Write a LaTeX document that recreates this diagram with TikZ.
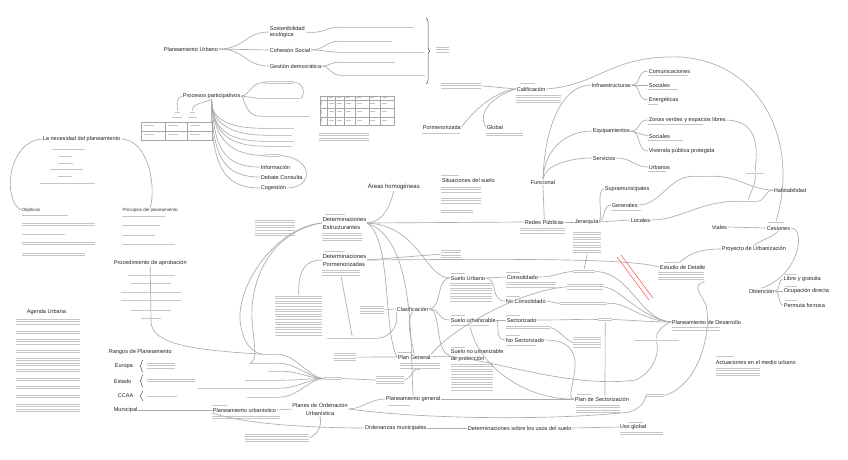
\documentclass[tikz,border=0pt]{standalone}
\usepackage{fontspec}
\setmainfont{Liberation Sans}
\usetikzlibrary{decorations.pathreplacing}
\newcommand\tblk[5]{%
 \node[inner sep=0pt, minimum width=#4pt, minimum height={#5*2.6pt}, anchor=north west] (#1) at (#2,{#3-1.3}) {};
 \foreach \k in {1,...,#5}{\draw[tline] (#2,{#3+(\k-1)*2.6}) -- ++(#4,0);}%
}
\tikzset{
 lbl/.style={font=\fontsize{5.6}{6.5}\selectfont, text=black!85, inner sep=0.6pt, anchor=west},
 lbltwo/.style={lbl, align=left, font=\fontsize{5.8}{8}\selectfont},
 mid/.style={font=\fontsize{4.5}{5}\selectfont, text=black!80, inner sep=0.5pt, anchor=west},
 con/.style={draw=gray!65, line width=0.65pt},
 tline/.style={draw=gray!45, line width=0.8pt},
 grid/.style={draw=gray!70, line width=0.4pt},
 brc/.style={draw=gray!70!black, line width=0.5pt, decorate},
 redx/.style={draw=red!70, line width=0.5pt}
}
\begin{document}
\begin{tikzpicture}[x=1pt,y=-1pt]
\useasboundingbox[fill=white] (0,0) rectangle (848,459);

% ===== Planeamiento Urbano =====
\node[lbl] (pu) at (163,49) {Planeamiento Urbano};
\node[lbl, align=left] (se) at (269,32) {Sostenibilidad\\ecológica};
\node[lbl] (cs) at (269,50) {Cohesión Social};
\node[lbl] (gd) at (269,66) {Gestión democrática};
\tblk{s1}{340}{27}{74}{1}
\tblk{c1}{340}{41}{52}{1}
\tblk{c2}{340}{52}{84}{1}
\tblk{g1}{340}{62}{55}{1}
\tblk{g2}{340}{75}{85}{1}
\draw[con] (pu.east) .. controls (245,49) and (245,32) .. (se.west);
\draw[con] (pu.east) -- (cs.west);
\draw[con] (pu.east) .. controls (245,49) and (245,66) .. (gd.west);
\draw[con] (se.east) .. controls (325,34) and (325,27) .. (s1.west);
\draw[con] (cs.east) .. controls (325,50) and (325,41) .. (c1.west);
\draw[con] (cs.east) .. controls (325,50) and (325,52) .. (c2.west);
\draw[con] (gd.east) .. controls (330,66) and (330,62) .. (g1.west);
\draw[con] (gd.east) .. controls (330,66) and (330,75) .. (g2.west);
\draw[brc, decoration={brace,amplitude=4pt}] (426,18) -- (426,84);
\tblk{bt}{436}{47}{13}{3}

% ===== Procesos participativos =====
\node[lbl] (pp) at (182,96) {Procesos participativos};
\tblk{p1}{265}{81}{29}{2}
\tblk{p2}{257}{98}{43}{1}
\tblk{p3}{260}{116}{50}{1}
\tblk{p4}{260}{128}{34}{1}
\tblk{p5a}{265}{135}{27}{1}
\tblk{p5b}{262}{141}{32}{1}
\tblk{p5c}{265}{146}{27}{1}
\tblk{p6}{265}{154}{15}{2}
\node[lbl] (inf) at (260,167) {Información};
\node[lbl] (dc) at (260,177) {Debate Consulta};
\node[lbl] (cg) at (260,188) {Cogestión};
\draw[con] (pp.east) .. controls (250,96) and (250,82) .. (p1.west);
\draw[con] (pp.east) -- (p2.west);
\draw[con] (pp.east) .. controls (245,98) and (245,116) .. (p3.west);
\draw[con] (p1.east) .. controls (305,82) and (305,98) .. (p2.east);
\draw[con] (pp.south) .. controls (210,118) and (228,128) .. (p4.west);
\draw[con] (pp.south) .. controls (211,124) and (232,135) .. (p5a.west);
\draw[con] (pp.south) .. controls (212,130) and (230,141) .. (p5b.west);
\draw[con] (pp.south) .. controls (213,136) and (232,146) .. (p5c.west);
\draw[con] (pp.south) .. controls (214,142) and (232,155) .. (p6.west);
\draw[con] (pp.south) .. controls (214,150) and (225,167) .. (inf.west);
\draw[con] (pp.south) .. controls (212,160) and (226,177) .. (dc.west);
\draw[con] (pp.south) .. controls (210,172) and (228,188) .. (cg.west);
\draw[con] (p6.east) .. controls (314,158) and (314,188) .. (cg.east);
\tblk{l1t}{175}{112}{5}{1}
\tblk{l1}{172}{117}{10}{1}
\tblk{l2t}{190}{112}{5}{1}
\tblk{l2}{188}{117}{9}{1}
\draw[con] (pp.west) .. controls (176,98) and (177,104) .. (l1t.north);
\draw[con] (pp.south) .. controls (200,104) and (192,104) .. (l2t.north);
% table 1
\draw[grid] (141,122) rectangle (212,140);
\draw[grid] (141,131) -- (212,131) (165,122) -- (165,140) (187,122) -- (187,140);
\foreach \cx in {144,168,190}{\foreach \cy in {125,134}{\draw[tline] (\cx,\cy) -- ++(10,0);}}
% table 2
\draw[grid] (320,95.7) rectangle (393.7,125);
\foreach \yy in {100,108.3,116.7}{\draw[grid] (320,\yy) -- (393.7,\yy);}
\foreach \xx in {327,335.3,343.7,355.3,368.7,380.3}{\draw[grid] (\xx,95.7) -- (\xx,125);}
\foreach \cx in {328.5,336.8,345.5,357,370.2,382}{\foreach \cy in {103,111.5,120}{\draw[tline] (\cx,\cy) -- ++(5,0);}}
\foreach \cy in {103,111.5,120}{\draw[tline] (321.5,\cy-2) -- ++(0,4);}
\foreach \cx in {329,337,346,357,370,383}{\draw[tline] (\cx,97.8) -- ++(4,0);}
\tblk{tt}{319}{133}{50}{4}

% ===== Necesidad del planeamiento =====
\node[lbl] (nec) at (42,139) {La necesidad del planeamiento};
\tblk{n1}{52}{149}{33}{1}
\tblk{n2}{59}{156}{13}{1}
\tblk{n3}{58}{163}{15}{1}
\tblk{n4}{50}{169}{33}{1}
\tblk{n5}{58}{176}{14}{1}
\tblk{n6}{40}{183}{55}{1}
\node[mid] (ob) at (21,210) {Objetivos};
\tblk{o1}{22}{215}{46}{1}
\tblk{o2}{22}{223}{73}{2}
\tblk{o3}{22}{234}{43}{1}
\tblk{o4}{22}{242}{73}{2}
\tblk{o5}{22}{253}{63}{2}
\node[mid] (pr) at (122,210) {Principios del planeamiento};
\tblk{r1}{122}{216}{43}{1}
\tblk{r2}{122}{225}{38}{1}
\tblk{r3}{122}{235}{33}{1}
\tblk{r4}{122}{244}{53}{1}
\draw[con] (nec.west) .. controls (8,141) and (2,200) .. (ob.west);
\draw[con] (nec.east) .. controls (150,140) and (156,190) .. (pr.north);

% ===== Procedimiento de aprobacion =====
\node[lbl] (proc) at (113,263) {Procedimiento de aprobación};
\coordinate (procend) at (151,321);
\draw[con] (proc.south) -- (procend);
\tblk{a1}{128}{275}{47}{1}
\tblk{a2}{131}{283}{40}{1}
\tblk{a3}{121}{292}{60}{1}
\tblk{a4}{121}{300}{60}{1}
\tblk{a5}{131}{310}{40}{1}
\tblk{a6}{141}{318}{20}{1}

% ===== Agenda Urbana =====
\node[lbl] (ag) at (26,312) {Agenda Urbana};
\tblk{ag1}{16}{319}{64}{3}
\tblk{ag2}{16}{331}{64}{2}
\tblk{ag3}{16}{339}{64}{3}
\tblk{ag4}{16}{350}{64}{2}
\tblk{ag5}{16}{358}{64}{4}
\tblk{ag6}{16}{369}{64}{2}
\tblk{ag7}{16}{378}{64}{2}
\tblk{ag8}{16}{386}{64}{2}
\tblk{ag9}{16}{395}{64}{2}
\tblk{ag10}{16}{404}{64}{4}

% ===== Rangos de Planeamiento =====
\node[lbl] (rang) at (108,352) {Rangos de Planeamiento};
\node[lbl] (eur) at (114,366) {Europa};
\node[lbl] (est) at (113,381) {Estado};
\node[lbl] (ccaa) at (117,396) {CCAA};
\node[lbl] (mun) at (113,410) {Municipal};
\draw[brc, decoration={brace,amplitude=3pt}] (143,372) -- (143,360);
\draw[brc, decoration={brace,amplitude=3pt}] (143,387) -- (143,375);
\draw[brc, decoration={brace,amplitude=3pt}] (143,401) -- (143,391);
\tblk{eu1}{147}{363}{28}{3}
\tblk{es1}{147}{379}{48}{2}
\tblk{cc1}{147}{396}{30}{1}

% ===== Planeamiento urbanistico / Planes de Ordenacion =====
\node[lbl] (purb) at (212,410) {Planeamiento urbanístico};
\tblk{purba}{212}{405}{15}{1}
\tblk{purbb}{212}{416}{68}{2}
\node[lbl, align=center, anchor=center, font=\fontsize{5.6}{8}\selectfont] (pou) at (320,409) {Planes de Ordenación\\Urbanística};
\tblk{poub}{245}{434}{64}{4}
\draw[con] (mun.east) -- (purb.west);
\draw[con] (purb.east) -- (pou.west);
\draw[con] (pou.south) .. controls (322,428) and (318,433) .. (poub.east);

% contenido
\tblk{cont}{324}{377}{18}{2}
\tblk{m1}{262}{354}{15}{1}
\tblk{m2}{250}{363}{28}{1}
\tblk{m3}{268}{371}{12}{1}
\tblk{m4}{245}{380}{35}{1}
\tblk{m5}{198}{388}{81}{1}
\tblk{m6}{247}{397}{32}{1}
\foreach \m in {m1,m2,m3,m4,m5,m6}{\draw[con] (\m.east) .. controls +(18,0) and +(-14,0) .. (cont.west);}

\node[lbl] (pg) at (397,357) {Plan General};
\tblk{pga}{398}{352}{14}{1}
\tblk{pgb}{400}{363}{40}{3}
\tblk{c353}{334}{353}{22}{4}
\tblk{c376}{376}{376}{28}{4}
\tblk{c338}{327}{338}{50}{1}
\tblk{c306}{360}{306}{24}{4}
\tblk{c296}{275}{296}{47}{16}
\node[lbl] (pgl) at (385,399) {Planeamiento general};
\tblk{pglb}{388}{405}{22}{1}
\node[lbl] (om) at (364,428) {Ordenanzas municipales};
\node[lbl] (dsu) at (467,428) {Determinaciones sobre los usos del suelo};
\node[lbl] (ug) at (619,427) {Uso global};
\tblk{uga}{628}{422}{15}{1}
\tblk{ugb}{620}{432}{43}{2}
\draw[con] (cont.east) -- (c376.west);
\draw[con] (c376.east) .. controls (415,376) and (412,366) .. (pgb.south);
\draw[con] (c353.east) -- (pg.west);
\draw[con] (pou.east) .. controls (362,409) and (370,399) .. (pgl.west);
\draw[con] (purb.south west) .. controls (250,426) and (330,428) .. (om.west);
\draw[con] (om.east) -- (dsu.west);
\draw[con] (dsu.east) -- (ug.west);

% ===== Determinaciones =====
\node[lbltwo] (det1) at (322,223) {Determinaciones\\Estructurantes};
\node[lbltwo] (det2) at (322,260) {Determinaciones\\Pormenorizadas};
\tblk{d1a}{325}{214}{20}{1}
\tblk{d1b}{322}{233}{40}{4}
\tblk{d2a}{325}{251}{20}{1}
\tblk{d2b}{322}{270}{38}{3}
\tblk{c220}{255}{220}{40}{7}
\node[lbl, font=\fontsize{6}{7}\selectfont] (ah) at (367,187) {Áreas homogéneas};
\node[lbl] (sit) at (441,180) {Situaciones del suelo};
\tblk{sita}{441}{175}{18}{1}
\tblk{sitb}{441}{187}{40}{3}
\tblk{sitc}{441}{198}{40}{3}
\tblk{sitd}{441}{210}{32}{2}

% ===== Calificacion =====
\node[lbl] (calif) at (516,89) {Calificación};
\tblk{cfa}{520}{83}{15}{1}
\tblk{cfb}{516}{95}{45}{4}
\tblk{cl}{441}{83}{40}{3}
\node[lbl] (porm) at (422,127) {Pormenorizada};
\tblk{pmb}{422}{133}{38}{1}
\node[lbl] (glob) at (486,127) {Global};
\tblk{glb}{486}{133}{37}{2}
\draw[con] (cl.east) -- (calif.west);
\draw[con] (calif.west) .. controls (490,92) and (468,118) .. (porm.east);
\draw[con] (calif.west) .. controls (495,95) and (476,112) .. (glob.west);

% ===== Funcional / Redes =====
\node[lbl] (fun) at (530,182) {Funcional};
\node[lbl] (rp) at (524,222) {Redes Públicas};
\tblk{rpb}{520}{228}{45}{3}
\node[lbl] (jer) at (574,222) {Jerarquía};
\tblk{jerb}{573}{232}{28}{9}
\node[lbl] (infra) at (591,85) {Infraestructuras};
\node[lbl] (com) at (648,71) {Comunicaciones};
\tblk{comb}{648}{75.5}{40}{1}
\node[lbl] (soc1) at (648,85) {Sociales};
\tblk{soc1b}{648}{89.5}{30}{1}
\node[lbl] (ene) at (648,100) {Energéticas};
\tblk{eneb}{648}{104.5}{10}{1}
\node[lbl] (equip) at (592,131) {Equipamientos};
\node[lbl] (zv) at (648,120) {Zonas verdes y espacios libres};
\tblk{zvb}{648}{124.5}{55}{1}
\node[lbl] (soc2) at (648,136) {Sociales};
\tblk{soc2b}{648}{140.5}{35}{1}
\node[lbl] (viv) at (648,151) {Vivienda pública protegida};
\node[lbl] (serv) at (592,158) {Servicios};
\node[lbl] (urb) at (648,167) {Urbanos};
\tblk{urbb}{648}{171.5}{18}{1}
\node[lbl] (supra) at (604,189) {Supramunicipales};
\node[lbl] (gen) at (611,205) {Generales};
\tblk{genb}{611}{210}{30}{1}
\node[lbl] (loc) at (630,220) {Locales};

\draw[con] (fun.north) .. controls (545,120) and (565,85) .. (infra.west);
\draw[con] (fun.north) .. controls (545,145) and (570,131) .. (equip.west);
\draw[con] (fun.north) .. controls (545,165) and (570,158) .. (serv.west);
\draw[con] (fun.south) -- (rp.north);
\draw[con] (det1.east) -- (rp.west);
\draw[con] (rp.east) -- (jer.west);
\draw[con] (jer.east) .. controls (603,215) and (596,190) .. (supra.west);
\draw[con] (jer.east) .. controls (605,220) and (603,205) .. (gen.west);
\draw[con] (jer.east) -- (loc.west);
\draw[con] (infra.east) .. controls (642,85) and (636,71) .. (com.west);
\draw[con] (infra.east) -- (soc1.west);
\draw[con] (infra.east) .. controls (642,85) and (636,100) .. (ene.west);
\draw[con] (equip.east) .. controls (642,131) and (636,120) .. (zv.west);
\draw[con] (equip.east) -- (soc2.west);
\draw[con] (equip.east) .. controls (642,131) and (636,151) .. (viv.west);
\draw[con] (serv.east) .. controls (632,158) and (634,167) .. (urb.west);

% ===== right cluster =====
\node[lbl] (hab) at (773,190) {Habitabilidad};
\tblk{t176}{693}{176}{18}{1}
\tblk{t173}{746}{173}{18}{1}
\tblk{t201}{739}{201}{18}{1}
\node[lbl] (vial) at (711,227) {Viales};
\node[lbl] (ces) at (766,228) {Cesiones};
\tblk{cesa}{768}{222}{16}{1}
\node[lbl] (proy) at (721,249) {Proyecto de Urbanización};
\node[lbl] (obt) at (748,291) {Obtención};
\node[lbl] (lyg) at (783,279) {Libre y gratuita};
\tblk{lyga}{785}{274.5}{12}{1}
\node[lbl] (ocd) at (783,291) {Ocupación directa};
\tblk{ocda}{785}{286.5}{12}{1}
\node[lbl] (pf) at (783,305) {Permuta forzosa};
\tblk{pfa}{785}{300.5}{12}{1}
\node[lbl] (ed) at (659,267) {Estudio de Detalle};
\tblk{eda}{664}{262}{15}{1}
\tblk{edb}{658}{272}{46}{4}
\draw[con] (calif.east) .. controls (600,85) and (610,55) .. (680,57) .. controls (760,62) and (800,140) .. (cesa.north);
\draw[con] (zv.east) .. controls (760,121) and (757,150) .. (t173.north);
\draw[con] (t173.south) .. controls (756,185) and (750,193) .. (t201.north);
\draw[con] (t201.east) .. controls (765,201) and (765,190) .. (hab.west);
\draw[con] (gen.east) .. controls (660,205) and (670,176) .. (t176.west);
\draw[con] (t176.east) .. controls (740,176) and (750,190) .. (hab.west);
\draw[con] (loc.east) .. controls (680,220) and (700,201) .. (t201.west);
\draw[con] (vial.east) -- (ces.west);
\draw[con] (ces.east) .. controls (806,228) and (800,275) .. (obt.north);
\draw[con] (ces.south) .. controls (772,238) and (760,240) .. (proy.north);
\draw[con] (proy.west) .. controls (695,249) and (688,256) .. (eda.east);
\draw[con] (obt.east) .. controls (780,291) and (778,279) .. (lyg.west);
\draw[con] (obt.east) -- (ocd.west);
\draw[con] (obt.east) .. controls (780,291) and (778,305) .. (pf.west);

% ===== Clasificacion =====
\node[lbl] (clas) at (396,309) {Clasificación};
\node[lbl] (su) at (450,278) {Suelo Urbano};
\tblk{sua}{451}{273}{14}{1}
\tblk{sub}{450}{283}{42}{8}
\node[lbl] (cons) at (506,277) {Consolidado};
\tblk{consa}{506}{272}{14}{1}
\tblk{consb}{506}{282}{50}{3}
\node[lbl] (ncons) at (505,301) {No Consolidado};
\tblk{nconsa}{506}{296}{14}{1}
\node[lbl] (subz) at (450,320) {Suelo urbanizable};
\tblk{subza}{451}{315}{14}{1}
\tblk{subzb}{451}{325.5}{38}{1}
\node[lbl] (sect) at (506,320) {Sectorizado};
\tblk{secta}{506}{315}{14}{1}
\tblk{sectb}{506}{326}{44}{2}
\node[lbl] (nsect) at (505,340) {No Sectorizado};
\tblk{nsecta}{506}{335}{14}{1}
\tblk{nsectb}{506}{345}{30}{1}
\node[lbl, align=left, font=\fontsize{5.6}{6.5}\selectfont] (snu) at (450,355.5) {Suelo no urbanizable\\de protección};
\tblk{snua}{451}{347}{14}{1}
\tblk{snub}{451}{364}{42}{11}
\node[lbl] (psect) at (574,399) {Plan de Sectorización};
\tblk{psa}{577}{394}{14}{1}
\tblk{psb}{576}{405}{44}{4}
\node[lbl] (pdd) at (671,322) {Planeamiento de Desarrollo};
\tblk{pddb}{672}{327.5}{48}{2}
\node[lbl] (amu) at (715,362) {Actuaciones en el medio urbano};
\tblk{amua}{716}{356}{18}{1}
\tblk{amub}{716}{368}{44}{4}
\tblk{c250}{441}{250}{20}{4}
\tblk{c270}{573}{270}{22}{2}
\tblk{c285}{567}{284}{36}{3}
\tblk{c301}{560}{302}{47}{2}
\tblk{pe}{598}{318}{14}{2}
\tblk{c337}{573}{337}{28}{5}
\tblk{c340}{634}{340}{45}{1}
\tblk{c394}{646}{394}{18}{2}

\draw[con] (ah.south) .. controls (390,205) and (385,221) .. (det1.east);
\draw[con] (det1.east) .. controls (392,240) and (383,330) .. (pg.west);
\draw[con] (det1.east) .. controls (415,240) and (410,340) .. (pgl.north);
\draw[con] (det1.east) .. controls (420,226) and (425,278) .. (su.west);
\draw[con] (det2.east) .. controls (500,259) and (630,258) .. (ed.west);
\draw[con] (det2.east) -- (c250.west);
\draw[con] (d2b.south) -- (c338.north);
\draw[con] (c306.east) .. controls (388,310) and (390,309) .. (clas.west);
\draw[con] (c296.north) .. controls (298,270) and (305,260) .. (det2.west);
\draw[con] (det1.west) .. controls (280,226) and (238,280) .. (240,320) .. controls (242,340) and (250,352) .. (m1.west);
\draw[con] (det1.west) .. controls (270,232) and (250,280) .. (252,320) .. controls (254,345) and (258,360) .. (m2.west);
\draw[con] (procend) .. controls (151,345) and (195,350) .. (m1.west);
\draw[con] (pg.north) .. controls (412,340) and (405,322) .. (clas.south);
\draw[con] (c338.east) .. controls (390,338) and (400,325) .. (clas.south west);
\draw[con] (clas.east) .. controls (442,309) and (436,278) .. (su.west);
\draw[con] (clas.east) .. controls (442,309) and (436,320) .. (subz.west);
\draw[con] (clas.east) .. controls (442,309) and (434,352) .. (snu.west);
\draw[con] (su.east) -- (cons.west);
\draw[con] (su.east) .. controls (498,278) and (490,301) .. (ncons.west);
\draw[con] (subz.east) -- (sect.west);
\draw[con] (subz.east) .. controls (500,320) and (494,340) .. (nsect.west);
\draw[con] (nsect.east) .. controls (600,340) and (560,399) .. (psect.west);
\draw[con] (subzb.south) .. controls (480,370) and (530,400) .. (psect.west);
\draw[con] (pgl.east) -- (psect.west);
\draw[con] (jerb.south) -- (c270.north);
\draw[con] (cons.east) .. controls (555,277) and (560,272) .. (c270.west);
\draw[con] (c270.east) .. controls (630,272) and (640,320) .. (pdd.west);
\draw[con] (pg.north east) .. controls (450,330) and (520,290) .. (c285.west);
\draw[con] (c285.east) .. controls (620,288) and (640,318) .. (pdd.west);
\draw[con] (ncons.east) -- (c301.west);
\draw[con] (c301.east) .. controls (625,301) and (640,320) .. (pdd.west);
\draw[con] (sect.east) .. controls (570,320) and (580,319) .. (pe.west);
\draw[con] (pe.east) .. controls (630,320) and (650,322) .. (pdd.west);
\draw[con] (pe.south) -- (605,396);
\draw[con] (sectb.east) .. controls (560,330) and (565,340) .. (c337.west);
\draw[con] (pg.east) .. controls (470,350) and (560,390) .. (636,380) .. controls (652,372) and (660,355) .. (c340.south);
\draw[con] (c340.north) .. controls (655,332) and (665,324) .. (pdd.west);
\draw[con] (pou.east) .. controls (430,420) and (560,420) .. (630,412) .. controls (640,408) and (645,402) .. (c394.west);
\draw[con] (c394.east) .. controls (700,385) and (712,330) .. (706,305) .. controls (700,292) and (692,286) .. (edb.south east);

% red marks
\draw[redx] (617,257) -- (649,300);
\draw[redx] (621,255) -- (653,298);
\end{tikzpicture}
\end{document}
